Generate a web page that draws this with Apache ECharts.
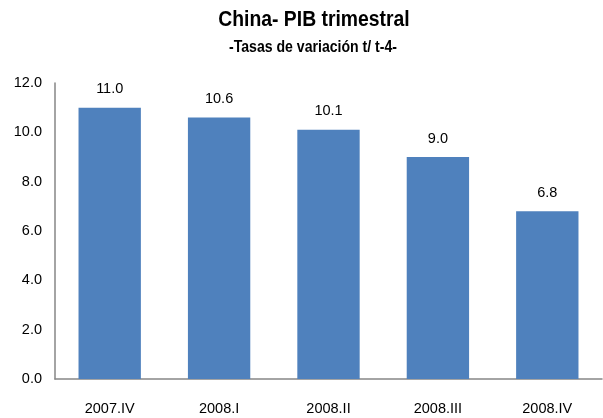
<!DOCTYPE html>
<html><head><meta charset="utf-8">
<script src="https://cdn.jsdelivr.net/npm/echarts@6/dist/echarts.min.js"></script>
<style>html,body{margin:0;padding:0;background:#fff}#c{width:603px;height:418px}</style>
</head><body><div id="c"></div>
<script>
var categories = ['2007.IV','2008.I','2008.II','2008.III','2008.IV'];
var values = [11.0, 10.6, 10.1, 9.0, 6.8];
var titleText = 'China- PIB trimestral';
var subtitleText = '-Tasas de variación t/ t-4-';
var F = "'Liberation Sans Narrow','Arial Narrow','Liberation Sans',sans-serif";
var chart = echarts.init(document.getElementById('c'));
chart.setOption({
  animation:false,
  graphic:[
    {type:'text', x:314, y:20, scaleX:0.88, style:{text:titleText, fontFamily:F, fontWeight:'bold', fontSize:22, fill:'#000', textAlign:'center', textVerticalAlign:'middle'}},
    {type:'text', x:313, y:47.5, scaleX:0.88, style:{text:subtitleText, fontFamily:F, fontWeight:'bold', fontSize:16, fill:'#000', textAlign:'center', textVerticalAlign:'middle'}}
  ],
  grid:{left:55, right:1, top:83, bottom:39},
  xAxis:{type:'category', data:categories,
    axisLine:{lineStyle:{color:'#868686', width:1.5}}, axisTick:{show:false},
    axisLabel:{fontFamily:F, fontSize:14.5, color:'#000', margin:22}},
  yAxis:{type:'value', min:0, max:12, interval:2,
    axisLine:{show:true, lineStyle:{color:'#868686', width:1.5}}, axisTick:{show:false},
    splitLine:{show:false},
    axisLabel:{fontFamily:F, fontSize:14.5, color:'#000', margin:13, formatter:function(v){return v.toFixed(1);}}},
  series:[{type:'bar', data:values, barWidth:'57%', itemStyle:{color:'#4F81BD'},
    label:{show:true, position:'top', distance:11, fontFamily:F, fontSize:14.5, color:'#000',
      formatter:function(p){return p.value.toFixed(1);}}}]
});
</script></body></html>
